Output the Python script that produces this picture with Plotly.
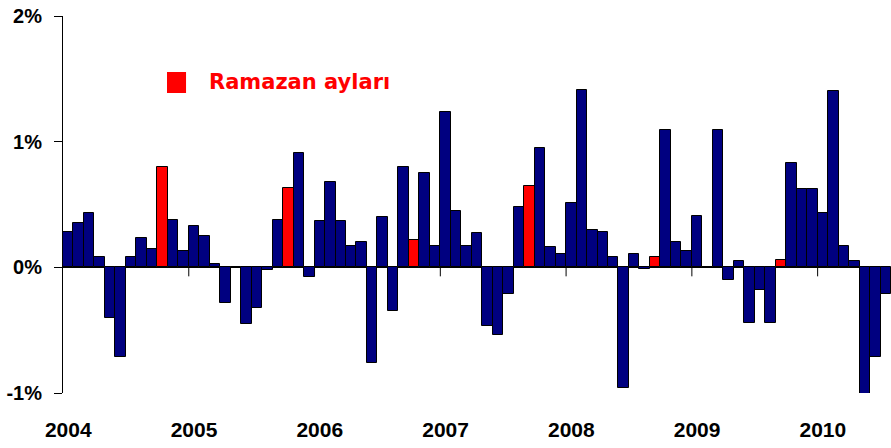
import plotly.graph_objects as go

# Monthly values (%), Jan 2004 .. Jul 2010
years = [2004, 2005, 2006, 2007, 2008, 2009, 2010]
values = [
    0.28, 0.35, 0.43, 0.08, -0.40, -0.71, 0.08, 0.23, 0.145, 0.80, 0.38, 0.13,   # 2004
    0.33, 0.25, 0.03, -0.28, 0.00, -0.45, -0.32, -0.02, 0.38, 0.63, 0.91, -0.075,  # 2005
    0.37, 0.68, 0.37, 0.17, 0.20, -0.76, 0.40, -0.35, 0.80, 0.22, 0.75, 0.17,    # 2006
    1.24, 0.45, 0.17, 0.27, -0.47, -0.54, -0.21, 0.48, 0.65, 0.95, 0.16, 0.105,  # 2007
    0.51, 1.41, 0.30, 0.28, 0.08, -0.96, 0.11, -0.01, 0.08, 1.09, 0.20, 0.13,    # 2008
    0.41, 0.00, 1.09, -0.10, 0.05, -0.44, -0.18, -0.44, 0.06, 0.83, 0.62, 0.62,  # 2009
    0.435, 1.40, 0.17, 0.05, -1.04, -0.71, -0.21,                                 # 2010
]
ramadan_months = ["2004-10", "2005-10", "2006-10", "2007-09", "2008-09", "2009-09"]
legend_label = "Ramazan ayları"
y_tickvals = [-1, 0, 1, 2]
y_ticktext = ["-1%", "0%", "1%", "2%"]

months = [f"{y}-{m:02d}" for y in years for m in range(1, 13)][:len(values)]
colors = ["#FF0000" if m in ramadan_months else "#000080" for m in months]

fig = go.Figure()
fig.add_trace(go.Bar(
    x=months, y=values,
    marker=dict(color=colors, line=dict(color="black", width=1)),
    showlegend=False, hoverinfo="x+y",
))

# small year-boundary ticks on the zero line
shapes = []
for k in range(1, len(years)):
    xb = 12 * k - 0.5
    if xb < len(values):
        shapes.append(dict(type="line", xref="x", yref="y", ysizemode="pixel",
                           yanchor=0, x0=xb, x1=xb, y0=0, y1=-9,
                           line=dict(color="black", width=1)))
# legend swatch
shapes.append(dict(type="rect", xref="paper", yref="paper",
                   x0=0.1256, x1=0.1486, y0=0.7958, y1=0.8515,
                   fillcolor="#FF0000", line=dict(width=0)))

fig.update_layout(
    width=891, height=448,
    margin=dict(l=63, r=0, t=16, b=55),
    plot_bgcolor="white", paper_bgcolor="white",
    bargap=0,
    shapes=shapes,
    annotations=[dict(text=legend_label, xref="paper", yref="paper",
                      x=0.1739, y=0.825, xanchor="left", yanchor="middle",
                      showarrow=False,
                      font=dict(family="DejaVu Sans", size=21, color="#FF0000", weight="bold"))],
)
fig.update_xaxes(
    type="category", range=[-0.5, len(values) - 0.5],
    tickvals=[f"{y}-01" for y in years], ticktext=[str(y) for y in years],
    ticks="", showgrid=False, showline=False, zeroline=False,
    tickangle=0, ticklabelstandoff=22,
    tickfont=dict(family="Liberation Sans, Arial, sans-serif", size=21, color="black", weight="bold"),
)
fig.update_yaxes(
    range=[-1, 2], tickvals=y_tickvals, ticktext=y_ticktext,
    showgrid=False, showline=True, linecolor="black", linewidth=1,
    ticks="outside", ticklen=8, tickcolor="black", tickwidth=1,
    zeroline=True, zerolinecolor="black", zerolinewidth=1,
    ticklabelstandoff=8,
    tickfont=dict(family="Liberation Sans, Arial, sans-serif", size=20, color="black", weight="bold"),
)

fig.write_html("out.html",
               config={"displayModeBar": False},
               post_script="document.body.style.margin='0';document.body.style.overflow='hidden';")
